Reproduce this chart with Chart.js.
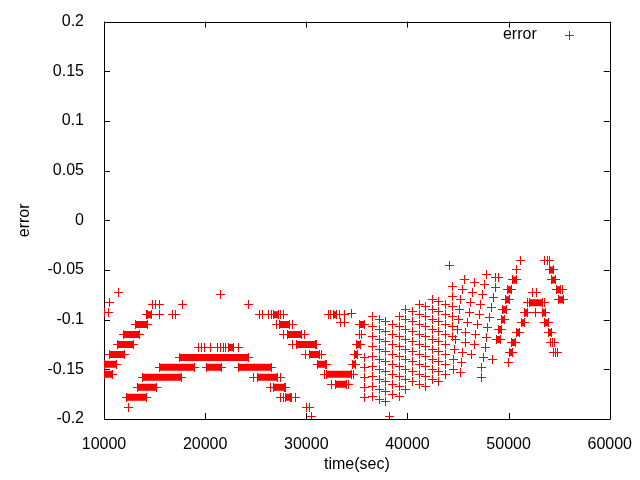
<!DOCTYPE html>
<html>
<head>
<meta charset="utf-8">
<script src="https://cdn.jsdelivr.net/npm/chart.js@4.4.1/dist/chart.umd.min.js"></script>
<style>
  html, body { margin: 0; padding: 0; background: #fff; }
  #plot { display: block; }
</style>
</head>
<body>
<canvas id="plot" width="640" height="480"></canvas>
<script>
// axis setup
const xTicks = [10000, 20000, 30000, 40000, 50000, 60000];
const yTicks = [-0.2, -0.15, -0.1, -0.05, 0, 0.05, 0.1, 0.15, 0.2];
const yTickLabels = ['-0.2', '-0.15', '-0.1', '-0.05', '0', '0.05', '0.1', '0.15', '0.2'];

// single samples [time(sec), error]
const leftPts = [
  [11400, -0.073], [10520, -0.083], [10050, -0.093], [10420, -0.093], [12380, -0.188],
  [14190, -0.095], [15490, -0.095], [16770, -0.095], [17060, -0.095],
  [14830, -0.085], [15100, -0.085], [15490, -0.085], [17780, -0.085], [24310, -0.085],
  [21540, -0.075],
  [19310, -0.128], [19610, -0.128], [19900, -0.128], [20490, -0.128], [21180, -0.128],
  [21470, -0.128], [21770, -0.128], [22060, -0.128], [23270, -0.128]
];

const midPts = [
  [25360, -0.095], [25690, -0.095], [26280, -0.095], [26540, -0.095], [27420, -0.095], [27750, -0.095],
  [32160, -0.095], [32380, -0.095], [33300, -0.095], [33790, -0.095], [34440, -0.094],
  [33430, -0.103], [33730, -0.103],
  [27090, -0.105], [28630, -0.105], [27750, -0.115], [29800, -0.115], [28630, -0.125], [31010, -0.125],
  [29930, -0.135], [31500, -0.135], [31990, -0.145], [31770, -0.155], [34710, -0.155],
  [32480, -0.165], [34220, -0.165],
  [24800, -0.158], [27420, -0.158], [26440, -0.168], [27910, -0.168],
  [27420, -0.178], [27750, -0.178], [28560, -0.178], [28890, -0.178],
  [30030, -0.188], [30360, -0.188], [30520, -0.197],
  [35290, -0.115], [35490, -0.115], [38270, -0.197], [44190, -0.045]
];

// the criss-cross block between 35000 and 44500 s, one column per time
const gridTimes = [35780, 36570, 37230, 37870, 38530, 39190, 39830, 40490, 41150, 41790, 42450, 43110, 43760, 44410];
const gridErrors = [
  [-0.138, -0.148, -0.158, -0.168, -0.178],
  [-0.097, -0.107, -0.117, -0.127, -0.137, -0.147, -0.157, -0.167, -0.177],
  [-0.100, -0.110, -0.120, -0.130, -0.140, -0.150, -0.160, -0.170, -0.180],
  [-0.102, -0.112, -0.122, -0.132, -0.142, -0.152, -0.162, -0.172, -0.182],
  [-0.105, -0.115, -0.125, -0.135, -0.145, -0.155, -0.165, -0.175],
  [-0.097, -0.107, -0.117, -0.127, -0.137, -0.147, -0.157, -0.167, -0.177],
  [-0.090, -0.100, -0.110, -0.120, -0.130, -0.140, -0.150, -0.160, -0.170],
  [-0.092, -0.102, -0.112, -0.122, -0.132, -0.142, -0.152, -0.162],
  [-0.085, -0.095, -0.105, -0.115, -0.125, -0.135, -0.145, -0.155, -0.165],
  [-0.087, -0.097, -0.107, -0.117, -0.127, -0.137, -0.147, -0.157, -0.167],
  [-0.080, -0.090, -0.100, -0.110, -0.120, -0.130, -0.140, -0.150, -0.160],
  [-0.082, -0.092, -0.102, -0.112, -0.122, -0.132, -0.142, -0.152, -0.162],
  [-0.085, -0.095, -0.105, -0.115, -0.125, -0.135, -0.145, -0.155],
  [-0.067, -0.077, -0.087, -0.097, -0.107, -0.117]
];

const rightPts = [
  [47780, -0.055], [48750, -0.058], [48990, -0.058],
  [45620, -0.060], [46600, -0.063], [47580, -0.065], [48660, -0.068],
  [45490, -0.070], [46470, -0.073], [47450, -0.075], [48500, -0.078],
  [45290, -0.080], [46280, -0.083], [47190, -0.085], [48330, -0.088],
  [45170, -0.090], [46150, -0.093], [47130, -0.095], [48110, -0.098],
  [45070, -0.100], [45950, -0.103], [46930, -0.105], [47910, -0.108],
  [44900, -0.110], [45720, -0.113], [46700, -0.115], [47780, -0.118],
  [44740, -0.120], [45720, -0.123], [46600, -0.125], [47680, -0.128],
  [44680, -0.130], [45490, -0.133], [46370, -0.135], [47520, -0.138], [48430, -0.140],
  [44580, -0.140], [45390, -0.143], [47350, -0.148],
  [44510, -0.150], [45230, -0.153], [47280, -0.158],
  [51210, -0.040], [50780, -0.050], [52620, -0.093], [51860, -0.083], [53530, -0.083],
  [52350, -0.073], [52750, -0.073], [53580, -0.040], [53870, -0.040], [54020, -0.040],
  [55340, -0.070], [54120, -0.123], [54360, -0.123], [54510, -0.123],
  [54410, -0.133], [54660, -0.133], [54800, -0.133], [49970, -0.143]
];

// stretches sampled so densely the crosses merge: [from, to, error]
const runs = [
  [13140, 14340, -0.105], [11890, 13530, -0.115], [11300, 12870, -0.125], [10520, 12060, -0.135],
  [10050, 11250, -0.145], [10050, 10880, -0.155],
  [13790, 17620, -0.158], [13270, 15170, -0.168], [12230, 14190, -0.178],
  [15490, 18920, -0.148], [20100, 21570, -0.148], [17450, 24250, -0.138], [23330, 26600, -0.148],
  [22260, 22840, -0.128],
  [14310, 14710, -0.095], [26770, 27260, -0.095], [32650, 32970, -0.095],
  [27350, 28330, -0.105], [28140, 29510, -0.115], [29020, 30880, -0.125], [30290, 31270, -0.135],
  [31080, 31870, -0.145], [31960, 34510, -0.155], [32840, 34020, -0.165],
  [25200, 27160, -0.158], [26770, 27840, -0.168], [27910, 28400, -0.178],
  [35290, 35780, -0.105], [35000, 35390, -0.125], [34800, 35100, -0.135], [34610, 34900, -0.145],
  [50390, 50740, -0.060], [49900, 50290, -0.070], [49710, 50100, -0.080], [49410, 49800, -0.090],
  [49270, 49610, -0.100], [49020, 49310, -0.110], [48820, 49170, -0.120],
  [50050, 50390, -0.133], [50290, 50640, -0.123], [50740, 51080, -0.113], [51270, 51620, -0.103],
  [51620, 51910, -0.093], [52060, 53330, -0.083],
  [54020, 54410, -0.050], [54220, 54610, -0.060], [54710, 55100, -0.070], [54900, 55390, -0.080],
  [53330, 53680, -0.093], [53530, 53920, -0.103], [53920, 54220, -0.113]
];

const RED = '#ff0000';
const FONT = "'Liberation Sans', Arial, sans-serif";

// small crisp "+" like gnuplot's point type 1
const plus = document.createElement('canvas');
plus.width = 9;
plus.height = 9;
(function () {
  const c = plus.getContext('2d');
  c.fillStyle = RED;
  c.fillRect(0, 4, 9, 1);
  c.fillRect(4, 0, 1, 9);
})();

// collect every cross
const crossData = [];
[leftPts, midPts, rightPts].forEach(list => {
  list.forEach(p => crossData.push({ x: p[0], y: p[1] }));
});
gridTimes.forEach((t, i) => {
  gridErrors[i].forEach(v => crossData.push({ x: t, y: v }));
});
runs.forEach(r => {
  crossData.push({ x: r[0], y: r[2] });
  crossData.push({ x: r[1], y: r[2] });
});

// merged stretches as thick segments, separated by gaps
const runData = [];
runs.forEach(r => {
  runData.push({ x: r[0], y: r[2] });
  runData.push({ x: r[1], y: r[2] });
  runData.push({ x: r[1], y: null });
});

// gnuplot style frame with inward ticks on all four sides, and the key
const framePlugin = {
  id: 'frame',
  beforeDatasetsDraw(chart) {
    const { ctx, chartArea: a, scales: { x, y } } = chart;
    ctx.save();
    ctx.strokeStyle = '#000';
    ctx.lineWidth = 1;
    ctx.beginPath();
    ctx.rect(Math.round(a.left) + 0.5, Math.round(a.top) + 0.5,
             Math.round(a.right - a.left), Math.round(a.bottom - a.top));
    xTicks.forEach(v => {
      const px = Math.round(x.getPixelForValue(v)) + 0.5;
      ctx.moveTo(px, a.bottom); ctx.lineTo(px, a.bottom - 6);
      ctx.moveTo(px, a.top); ctx.lineTo(px, a.top + 6);
    });
    yTicks.forEach(v => {
      const py = Math.round(y.getPixelForValue(v)) + 0.5;
      ctx.moveTo(a.left, py); ctx.lineTo(a.left + 6, py);
      ctx.moveTo(a.right, py); ctx.lineTo(a.right - 6, py);
    });
    ctx.stroke();
    ctx.restore();
    ctx.imageSmoothingEnabled = false;
  },
  afterDraw(chart) {
    const { ctx, chartArea: a } = chart;
    ctx.save();
    ctx.fillStyle = '#000';
    ctx.font = '16px ' + FONT;
    ctx.textAlign = 'right';
    ctx.textBaseline = 'middle';
    ctx.fillText('error', a.right - 73, a.top + 13);
    ctx.imageSmoothingEnabled = false;
    ctx.drawImage(plus, Math.round(a.right - 41) - 4, Math.round(a.top + 13) - 4);
    ctx.restore();
  }
};

new Chart(document.getElementById('plot'), {
  type: 'scatter',
  data: {
    datasets: [
      {
        label: 'error',
        data: crossData,
        pointStyle: plus,
        pointRadius: 4.5,
        borderColor: RED,
        backgroundColor: RED,
        showLine: false
      },
      {
        label: 'dense',
        data: runData,
        showLine: true,
        spanGaps: false,
        borderColor: RED,
        borderWidth: 7,
        borderCapStyle: 'butt',
        pointRadius: 0,
        fill: false
      }
    ]
  },
  options: {
    responsive: false,
    animation: false,
    events: [],
    layout: { padding: { top: 19, right: 26, left: 0, bottom: 0 } },
    plugins: {
      legend: { display: false },
      tooltip: { enabled: false }
    },
    scales: {
      x: {
        type: 'linear',
        min: 10000,
        max: 60000,
        afterBuildTicks: s => { s.ticks = xTicks.map(v => ({ value: v })); },
        afterFit: s => { s.height = 61; },
        grid: { display: false },
        border: { display: false },
        ticks: {
          color: '#000',
          font: { family: FONT, size: 16 },
          padding: 8,
          maxRotation: 0,
          callback: v => String(v)
        },
        title: {
          display: true,
          text: 'time(sec)',
          color: '#000',
          font: { family: FONT, size: 16 },
          padding: { top: 0, bottom: 6 }
        }
      },
      y: {
        type: 'linear',
        min: -0.2,
        max: 0.2,
        afterBuildTicks: s => { s.ticks = yTicks.map(v => ({ value: v })); },
        afterFit: s => { s.width = 104; },
        grid: { display: false },
        border: { display: false },
        ticks: {
          color: '#000',
          font: { family: FONT, size: 16 },
          padding: 12,
          callback: (v, i) => yTickLabels[i]
        },
        title: {
          display: true,
          text: 'error',
          color: '#000',
          font: { family: FONT, size: 16 },
          padding: { top: 15, bottom: 0 }
        }
      }
    }
  },
  plugins: [framePlugin]
});
</script>
</body>
</html>
